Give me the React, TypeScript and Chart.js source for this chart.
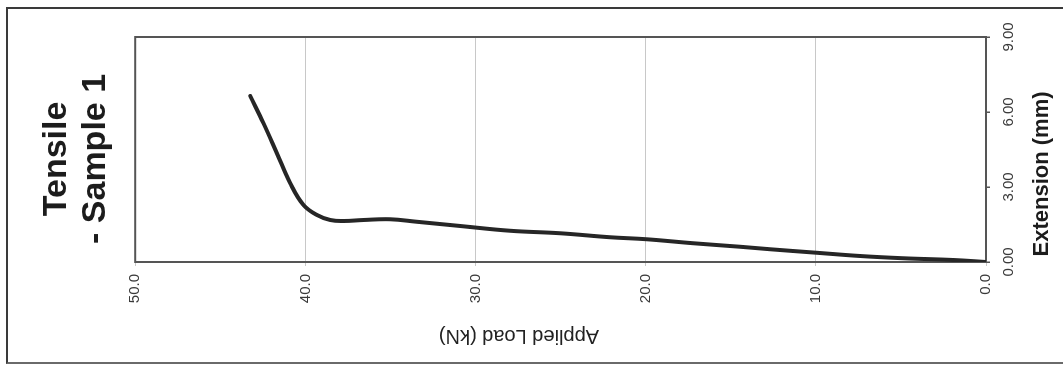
import React, { useEffect, useRef } from 'react';
import { Chart, registerables } from 'chart.js';

Chart.register(...registerables);

// Data (Applied Load in kN, Extension in mm)
const loadKN = [0, 1.92, 4.86, 7.4, 9.95, 12.69, 14.45, 17.2, 19.94, 22.09, 25.03, 27.97, 30.9, 33.45, 35.02, 36.59, 37.76, 38.54, 39.32, 40.11, 40.89, 41.67, 42.46, 43.24];
const extensionMM = [0, 0.08, 0.15, 0.24, 0.37, 0.51, 0.61, 0.75, 0.91, 0.99, 1.15, 1.25, 1.44, 1.61, 1.71, 1.68, 1.64, 1.68, 1.88, 2.28, 3.15, 4.35, 5.55, 6.64];
const extensionTicks = [0, 3, 6, 9];
const loadTicks = [0, 10, 20, 30, 40, 50];
const titleLines = ['Tensile', '- Sample 1'];
const loadAxisTitle = 'Applied Load (kN)';
const extensionAxisTitle = 'Extension (mm)';

const FONT = "'Liberation Sans', Arial, Helvetica, sans-serif";

export default function App() {
  const canvasRef = useRef<HTMLCanvasElement | null>(null);

  useEffect(() => {
    const canvas = canvasRef.current;
    if (!canvas) return;

    const framePlugin = {
      id: 'plotFrame',
      beforeDatasetsDraw(chart: any) {
        const { ctx, chartArea } = chart;
        ctx.save();
        ctx.strokeStyle = '#555555';
        ctx.lineWidth = 2;
        ctx.strokeRect(chartArea.left, chartArea.top, chartArea.right - chartArea.left, chartArea.bottom - chartArea.top);
        ctx.restore();
      },
    };

    const chart = new Chart(canvas, {
      type: 'scatter',
      data: {
        datasets: [
          {
            data: loadKN.map((l, i) => ({ x: extensionMM[i], y: l })),
            showLine: true,
            borderColor: '#262626',
            borderWidth: 4,
            pointRadius: 0,
            tension: 0.4,
            borderCapStyle: 'round',
            borderJoinStyle: 'round',
          } as any,
        ],
      },
      options: {
        animation: false,
        responsive: false,
        events: [],
        layout: { padding: { left: 5, right: 37, top: 0, bottom: 0 } },
        plugins: {
          legend: { display: false },
          tooltip: { enabled: false },
          title: {
            display: true,
            fullSize: false,
            text: titleLines.map((t) => t + '  '),
            color: '#1c1c1c',
            font: { family: FONT, size: 34, weight: 'bold', lineHeight: 1.15 },
            padding: { top: 37, bottom: 20 },
          },
        },
        scales: {
          x: {
            type: 'linear',
            position: 'bottom',
            min: 0,
            max: 9,
            afterBuildTicks: (s: any) => {
              s.ticks = extensionTicks.map((v) => ({ value: v }));
            },
            afterFit: (s: any) => {
              s.height = 77;
            },
            ticks: {
              maxRotation: 0,
              minRotation: 0,
              autoSkip: false,
              padding: 10,
              color: '#3a3a3a',
              font: { family: FONT, size: 15 },
              callback: (v: any) => Number(v).toFixed(2),
            },
            grid: { drawOnChartArea: false, drawTicks: true, tickLength: 4, color: '#555555', lineWidth: 1.5 },
            border: { display: false },
            title: {
              display: true,
              text: extensionAxisTitle + '        ',
              color: '#1c1c1c',
              font: { family: FONT, size: 22, weight: 'bold', lineHeight: 1.2 },
              padding: { top: 0, bottom: 8 },
            },
          },
          y: {
            type: 'linear',
            position: 'left',
            min: 0,
            max: 50,
            afterBuildTicks: (s: any) => {
              s.ticks = loadTicks.map((v) => ({ value: v }));
            },
            afterFit: (s: any) => {
              s.width = 98;
            },
            ticks: {
              autoSkip: false,
              padding: 8,
              color: '#3a3a3a',
              font: { family: FONT, size: 15 },
              callback: (v: any) => Number(v).toFixed(1),
            },
            grid: { drawOnChartArea: true, drawTicks: true, tickLength: 4, color: '#c8c8c8', lineWidth: 1 },
            border: { display: false },
            title: {
              display: true,
              text: '               ' + loadAxisTitle,
              color: '#222222',
              font: { family: FONT, size: 20, lineHeight: 1.2 },
              padding: { top: 12, bottom: 0 },
            },
          },
        },
      },
      plugins: [framePlugin],
    } as any);

    return () => {
      chart.destroy();
    };
  }, []);

  return (
    <div
      style={{
        position: 'fixed',
        left: 0,
        top: 0,
        width: 1063,
        height: 365,
        background: '#ffffff',
        overflow: 'hidden',
      }}
    >
      <div
        style={{
          position: 'absolute',
          left: 6,
          top: 7,
          width: 1070,
          height: 353,
          borderLeft: '2px solid #3a3a3a',
          borderTop: '2px solid #3a3a3a',
          borderBottom: '2px solid #6a6a6a',
        }}
      />
      <div
        style={{
          position: 'absolute',
          left: 0,
          top: 0,
          width: 365,
          height: 1063,
          transformOrigin: '0 0',
          transform: 'translateY(365px) rotate(-90deg)',
        }}
      >
        <canvas ref={canvasRef} width={365} height={1063} style={{ display: 'block' }} />
      </div>
    </div>
  );
}
